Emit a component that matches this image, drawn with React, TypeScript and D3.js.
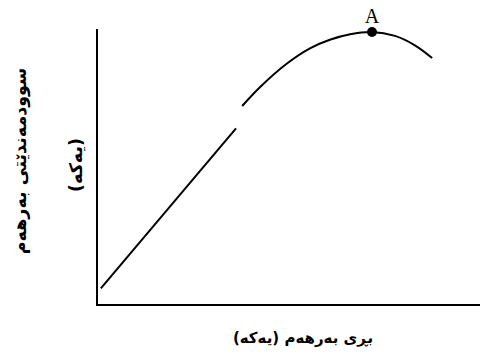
import React from "react";
import * as d3 from "d3";

// output quantity (units) -> total utility (units), 0..100 scale
const lowerX = [1, 36.3];
const lowerY = [6, 64];
const upperX = [37.9, 42.6, 49.6, 55.6, 60.8, 66.1, 71.8, 77.8, 83.0, 87.5];
const upperY = [72.1, 79.0, 87.5, 93.0, 96.1, 98.1, 98.9, 97.5, 94.1, 89.5];
const peakX = 71.8;
const peakY = 98.9;
const peakLabel = "A";
const xTitle = "بڕی بەرهەم (یەکە)";
const yTitleLines = ["سوودمەندێتی بەرهەم", "(یەکە)"];

const W = 480;
const H = 360;
const arabicFont = "'DejaVu Sans', sans-serif";

export default function App() {
  const x = d3.scaleLinear().domain([0, 100]).range([97, 480]);
  const y = d3.scaleLinear().domain([0, 100]).range([305, 29]);

  const line = d3
    .line<[number, number]>()
    .x((d) => x(d[0]))
    .y((d) => y(d[1]));
  const curve = d3
    .line<[number, number]>()
    .x((d) => x(d[0]))
    .y((d) => y(d[1]))
    .curve(d3.curveCatmullRom);

  const lowerPts = lowerX.map((v, i) => [v, lowerY[i]] as [number, number]);
  const upperPts = upperX.map((v, i) => [v, upperY[i]] as [number, number]);

  return (
    <svg
      width={W}
      height={H}
      style={{ position: "absolute", left: 0, top: 0, background: "#fff" }}
    >
      {/* axes */}
      <line x1={x(0)} x2={x(0)} y1={y(100)} y2={y(0)} stroke="#000" strokeWidth={2} />
      <line x1={x(0) - 1} x2={x(100)} y1={y(0)} y2={y(0)} stroke="#000" strokeWidth={2} />

      <path d={line(lowerPts) || ""} fill="none" stroke="#000" strokeWidth={2} />
      <path d={curve(upperPts) || ""} fill="none" stroke="#000" strokeWidth={2} />

      <circle cx={x(peakX)} cy={y(peakY)} r={5} fill="#000" />
      <text
        x={x(peakX)}
        y={y(peakY) - 9}
        textAnchor="middle"
        fontFamily="'Liberation Serif', serif"
        fontSize={20}
      >
        {peakLabel}
      </text>

      <text
        x={303}
        y={343}
        textAnchor="middle"
        fontFamily={arabicFont}
        fontWeight="bold"
        fontSize={15}
        direction="rtl"
      >
        {xTitle}
      </text>

      {yTitleLines.map((t, i) => (
        <text
          key={i}
          transform={`translate(${i === 0 ? 26 : 82},${i === 0 ? 161 : 165}) rotate(-90)`}
          textAnchor="middle"
          fontFamily={arabicFont}
          fontWeight="bold"
          fontSize={17.5}
          direction="rtl"
        >
          {t}
        </text>
      ))}
    </svg>
  );
}
